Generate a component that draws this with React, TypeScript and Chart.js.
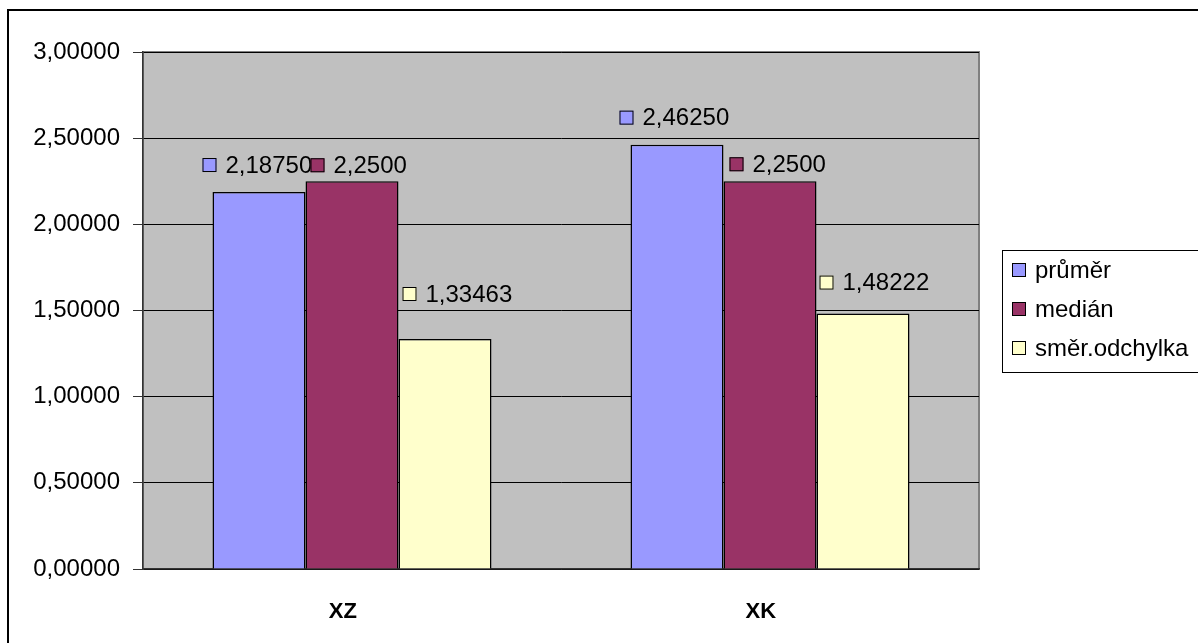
import React, { useEffect, useRef } from "react";
import { Chart, registerables } from "chart.js";

Chart.register(...registerables);

// Categories and series
const categories = ["XZ", "XK"];
const seriesNames = ["průměr", "medián", "směr.odchylka"];
const prumer = [2.1875, 2.4625];
const median = [2.25, 2.25];
const smerOdchylka = [1.33463, 1.48222];

// Value axis range
const yMin = 0;
const yMax = 3;
const yStep = 0.5;

// Number of decimals used in each series' value labels
const labelDecimals = [5, 4, 5];

const seriesColors = ["#9999FF", "#993366", "#FFFFCC"];
const FONT = "'Liberation Sans', Arial, sans-serif";
const W = 1198;
const H = 643;

const fmt = (v: number, d: number) => v.toFixed(d).replace(".", ",");

// Placement of each value label: [dx from bar's left edge, dy from bar top to label middle]
const labelOffsets: number[][][] = [
  [[-10, -27], [-11, -27]],
  [[5, -16], [6, -17]],
  [[4, -45], [3, -31]],
];

const plotBackground = {
  id: "plotBackground",
  beforeDraw(chart: any) {
    const { ctx, chartArea: a } = chart;
    ctx.save();
    ctx.fillStyle = "#C0C0C0";
    ctx.fillRect(a.left, a.top, a.right - a.left, a.bottom - a.top);
    ctx.strokeStyle = "#808080";
    ctx.lineWidth = 2;
    ctx.strokeRect(a.left, a.top, a.right - a.left, a.bottom - a.top);
    ctx.restore();
  },
};

const valueLabels = {
  id: "valueLabels",
  afterDatasetsDraw(chart: any) {
    const { ctx } = chart;
    ctx.save();
    ctx.font = `24px ${FONT}`;
    ctx.textBaseline = "middle";
    ctx.textAlign = "left";
    chart.data.datasets.forEach((ds: any, di: number) => {
      const meta = chart.getDatasetMeta(di);
      meta.data.forEach((bar: any, i: number) => {
        const [dx, dy] = labelOffsets[di][i];
        const left = bar.x - bar.width / 2 + dx;
        const cy = bar.y + dy;
        ctx.fillStyle = ds.backgroundColor;
        ctx.fillRect(left, cy - 7, 14, 14);
        ctx.strokeStyle = "#000";
        ctx.lineWidth = 1;
        ctx.strokeRect(left + 0.5, cy - 6.5, 13, 13);
        ctx.fillStyle = "#000";
        ctx.fillText(fmt(ds.data[i], labelDecimals[di]), left + 23, cy + 1);
      });
    });
    ctx.restore();
  },
};

const boxLegend = {
  id: "boxLegend",
  afterDraw(chart: any) {
    const { ctx, chartArea: a } = chart;
    const left = a.right + 23;
    const top = 250;
    ctx.save();
    ctx.strokeStyle = "#000";
    ctx.lineWidth = 1;
    ctx.strokeRect(left + 0.5, top + 0.5, 400, 122);
    ctx.font = `24px ${FONT}`;
    ctx.textBaseline = "middle";
    ctx.textAlign = "left";
    chart.data.datasets.forEach((ds: any, di: number) => {
      const cy = top + 20 + di * 39;
      ctx.fillStyle = ds.backgroundColor;
      ctx.fillRect(left + 10, cy - 7, 14, 14);
      ctx.strokeRect(left + 10.5, cy - 6.5, 13, 13);
      ctx.fillStyle = "#000";
      ctx.fillText(ds.label, left + 33, cy + 1);
    });
    ctx.restore();
  },
};

export default function App() {
  const canvasRef = useRef<HTMLCanvasElement>(null);

  useEffect(() => {
    const canvas = canvasRef.current;
    if (!canvas) return;
    const seriesValues = [prumer, median, smerOdchylka];
    const chart = new Chart(canvas, {
      type: "bar",
      data: {
        labels: categories,
        datasets: seriesValues.map((vals, i) => ({
          label: seriesNames[i],
          data: vals,
          backgroundColor: seriesColors[i],
          borderColor: "#000",
          borderWidth: 1.5,
          categoryPercentage: 0.6675,
          barPercentage: 1,
        })),
      },
      options: {
        responsive: false,
        animation: false,
        events: [],
        layout: { padding: { top: 52, right: 219, left: 0, bottom: 0 } },
        plugins: {
          legend: { display: false },
          tooltip: { enabled: false },
          title: { display: false },
        },
        scales: {
          x: {
            grid: { display: false },
            border: { display: true, color: "#333", width: 1.5 },
            ticks: {
              color: "#000",
              padding: 22,
              font: { family: FONT, size: 22, weight: "bold" },
              callback: (_v: any, i: number) => categories[i] + "   ",
            },
            afterFit: (axis: any) => {
              axis.height = 74;
            },
          },
          y: {
            min: yMin,
            max: yMax,
            grid: { color: "#000", lineWidth: 1, tickLength: 10, tickColor: "#333" },
            border: { display: true, color: "#333", width: 1.5 },
            ticks: {
              stepSize: yStep,
              color: "#000",
              padding: 13,
              font: { family: FONT, size: 24 },
              callback: (v: any) => fmt(Number(v), 5),
            },
            afterFit: (axis: any) => {
              axis.width = 143;
            },
          },
        },
      },
      plugins: [plotBackground, valueLabels, boxLegend],
    });
    return () => chart.destroy();
  }, []);

  return (
    <div
      style={{
        position: "fixed",
        left: 0,
        top: 0,
        width: W,
        height: H,
        overflow: "hidden",
        background: "#fff",
      }}
    >
      <div
        style={{
          position: "absolute",
          left: 7,
          top: 9,
          width: 1400,
          height: 900,
          borderLeft: "2px solid #000",
          borderTop: "2px solid #000",
        }}
      />
      <canvas
        ref={canvasRef}
        width={W}
        height={H}
        style={{ position: "absolute", left: 0, top: 0, width: W, height: H }}
      />
    </div>
  );
}
